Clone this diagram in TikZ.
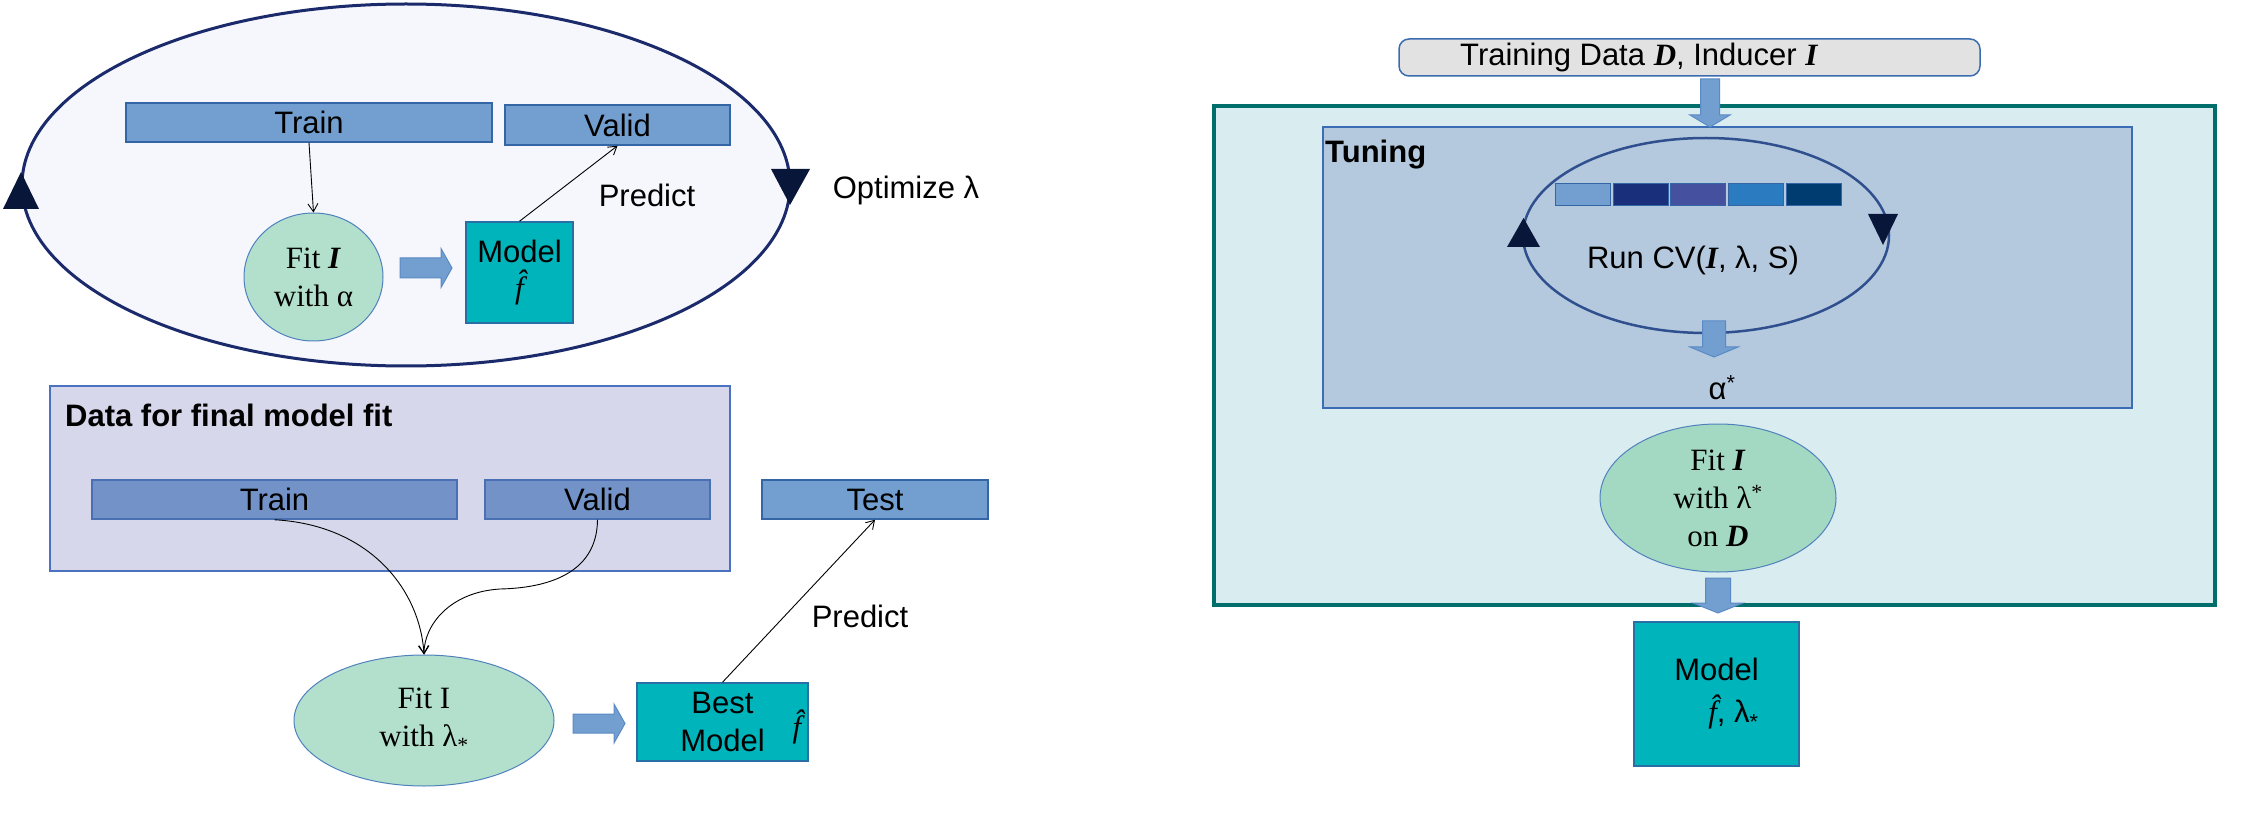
\documentclass[tikz,border=0pt]{standalone}
\usepackage{fontspec}
\setmainfont{Liberation Serif}
\setsansfont{Liberation Sans}
\usetikzlibrary{arrows.meta}
\usetikzlibrary{shapes.geometric}

\definecolor{loopnavy}{HTML}{1B2A6B}
\definecolor{loopfill}{HTML}{F5F7FC}
\definecolor{trinavy}{HTML}{08163A}
\definecolor{barblue}{HTML}{729FCF}
\definecolor{barline}{HTML}{3465A4}
\definecolor{darkbarblue}{HTML}{7292C8}
\definecolor{darkbarline}{HTML}{4A6FB3}
\definecolor{datafill}{HTML}{D6D7EB}
\definecolor{dataline}{HTML}{4A72C0}
\definecolor{mint}{HTML}{B3E0CC}
\definecolor{mintdark}{HTML}{A3D8C2}
\definecolor{mintline}{HTML}{4F81BD}
\definecolor{modelteal}{HTML}{00B4BC}
\definecolor{modelline}{HTML}{2A6EA6}
\definecolor{arrowfill}{HTML}{729FCF}
\definecolor{arrowline}{HTML}{5A8AC6}
\definecolor{bannerfill}{HTML}{E2E2E2}
\definecolor{bannerline}{HTML}{3C6BB0}
\definecolor{outerfill}{HTML}{D9ECEF}
\definecolor{outerteal}{HTML}{006E6B}
\definecolor{tunefill}{HTML}{B4C9DD}
\definecolor{tuneline}{HTML}{3A6DB5}
\definecolor{loopblue}{HTML}{2F4F8F}
\definecolor{foldA}{HTML}{729FCF}
\definecolor{foldB}{HTML}{1A2F7B}
\definecolor{foldC}{HTML}{45509F}
\definecolor{foldD}{HTML}{2A7BC0}
\definecolor{foldE}{HTML}{003C70}

\newcommand{\fhat}{{\rmfamily\itshape \^f}}

\tikzset{
	txt/.style={font=\sffamily\fontsize{31}{38}\selectfont},
	boldtxt/.style={font=\sffamily\bfseries\fontsize{31}{38}\selectfont},
	sertxt/.style={font=\rmfamily\fontsize{31}{38}\selectfont},
	bar/.style={rectangle, draw=barline, fill=barblue, line width=1.5pt, inner sep=0pt, txt},
	darkbar/.style={bar, draw=darkbarline, fill=darkbarblue},
	fitnode/.style={ellipse, draw=mintline, fill=mint, line width=1pt, inner sep=0pt, align=center, sertxt},
	modelbox/.style={rectangle, draw=modelline, fill=modelteal, line width=1.5pt, inner sep=0pt, align=center, txt},
	fold/.style={rectangle, draw=barline, line width=1pt, minimum width=55, minimum height=22, inner sep=0pt},
	conn/.style={-{Straight Barb[length=8pt,width=10pt]}, line width=0.9pt, black},
	blockarrow/.style={fill=arrowfill, draw=arrowline, line width=1pt},
	pics/fatarrow/.style n args={4}{code={
		\filldraw[blockarrow] (0,-#3) -- ({#1-#2},-#3) -- ({#1-#2},-#4) -- (#1,0)
			-- ({#1-#2},#4) -- ({#1-#2},#3) -- (0,#3) -- cycle;
	}},
}

\begin{document}
\begin{tikzpicture}[x=1pt, y=-1pt]
	\useasboundingbox (0,0) rectangle (2247,818);

	% optimisation loop
	\node[ellipse, draw=loopnavy, fill=loopfill, line width=3pt, minimum width=768, minimum height=362] (loopA) at (406,185) {};
	\fill[trinavy] (3,209) -- (39,209) -- (21,172) -- cycle;
	\fill[trinavy] (771,169) -- (810,169) -- (790,205) -- cycle;
	\node[txt] (optA) at (906,190) {Optimize λ};

	\node[bar, minimum width=366, minimum height=39] (trainA) at (309,122.5) {Train};
	\node[bar, minimum width=225, minimum height=40] (validA) at (617.5,125) {Valid};
	\node[fitnode, minimum width=139, minimum height=128] (fitA) at (313.5,277) {Fit \textbf{\textit{I}}\\with α};
	\pic at (400,268) {fatarrow={52}{11}{10}{19.5}};
	\node[modelbox, minimum width=107, minimum height=101] (modelA) at (519.5,272.5) {Model\\[-2pt]\fhat};
	\node[txt] (predA) at (647,195) {Predict};

	\draw[conn] (trainA.south) -- (fitA.north);
	\draw[conn] (modelA.north) -- (validA.south);

	% final model fit
	\node[rectangle, draw=dataline, fill=datafill, line width=1.5pt, minimum width=680, minimum height=185] (dataB) at (390,478.5) {};
	\node[boldtxt, anchor=west, inner sep=0pt] (dataBlbl) at (65,415) {Data for final model fit};
	\node[darkbar, minimum width=365, minimum height=39] (trainB) at (274.5,499.5) {Train};
	\node[darkbar, minimum width=225, minimum height=39] (validB) at (597.5,499.5) {Valid};
	\node[bar, minimum width=226, minimum height=39] (testB) at (875,499.5) {Test};
	\node[fitnode, minimum width=260, minimum height=131] (fitB) at (424,720.5) {Fit I\\with λ\textsubscript{*}};
	\pic at (573,723.5) {fatarrow={52}{11}{9.5}{19.5}};
	\node[modelbox, minimum width=171, minimum height=78] (bestB) at (722.5,722) {Best\\Model};
	\node[txt] (hatB) at (797,727) {\fhat};
	\node[txt] (predB) at (860,616) {Predict};

	\draw[conn] (trainB.south) .. controls (370,525) and (420,590) .. (fitB.north);
	\draw[conn] (validB.south) .. controls (597,575) and (545,588) .. (500,589)
		.. controls (450,592) and (424,625) .. (fitB.north);
	\draw[conn] (bestB.north) -- (testB.south);

	% nested resampling
	\node[rectangle, rounded corners=10, draw=bannerline, fill=bannerfill, line width=1.5pt, minimum width=581, minimum height=37] (dataR) at (1689.5,57.5) {};
	\node[txt, anchor=west, inner sep=0pt] (dataRlbl) at (1460,57.5) {Training Data {\rmfamily\bfseries\itshape D}, Inducer {\rmfamily\bfseries\itshape I}};

	\node[rectangle, draw=outerteal, fill=outerfill, line width=4.5pt, minimum width=1001, minimum height=499] (outer) at (1714.5,355.5) {};
	\node[rectangle, draw=tuneline, fill=tunefill, line width=1.5pt, minimum width=809, minimum height=281] (tuning) at (1727.5,267.5) {};
	\node[boldtxt, anchor=west, inner sep=0pt] (tunelbl) at (1325,155) {Tuning};
	\pic[rotate=-90] at (1710,79) {fatarrow={48}{12}{9.5}{20}};

	\node[ellipse, draw=loopblue, line width=2.5pt, minimum width=366, minimum height=195] (loopR) at (1706,235.5) {};
	\foreach \xc/\col [count=\i] in {1582.5/foldA, 1640.5/foldB, 1697.5/foldC, 1755.5/foldD, 1813.5/foldE}
		\node[fold, fill=\col] (fold\i) at (\xc,195) {};
	\fill[trinavy] (1507,247) -- (1540,247) -- (1523.5,218) -- cycle;
	\fill[trinavy] (1868,214) -- (1898,214) -- (1883,245) -- cycle;
	\node[txt] (runcv) at (1693,260) {Run CV({\rmfamily\bfseries\itshape I}, λ, S)};
	\pic[rotate=-90] at (1714,321) {fatarrow={36}{10}{11.5}{24}};
	\node[txt] (alphaR) at (1722,388) {α\textsuperscript{*}};

	\node[fitnode, fill=mintdark, minimum width=236, minimum height=148] (fitR) at (1718,498) {Fit \textbf{\textit{I}}\\with λ\textsuperscript{*}\\on \textbf{\textit{D}}};
	\pic[rotate=-90] at (1718,578) {fatarrow={35}{10}{12.5}{25}};
	\node[modelbox, minimum width=165, minimum height=144] (modelR) at (1716.5,694) {Model\\[4pt]\hspace*{34pt}\fhat, λ\textsubscript{*}};
\end{tikzpicture}
\end{document}
